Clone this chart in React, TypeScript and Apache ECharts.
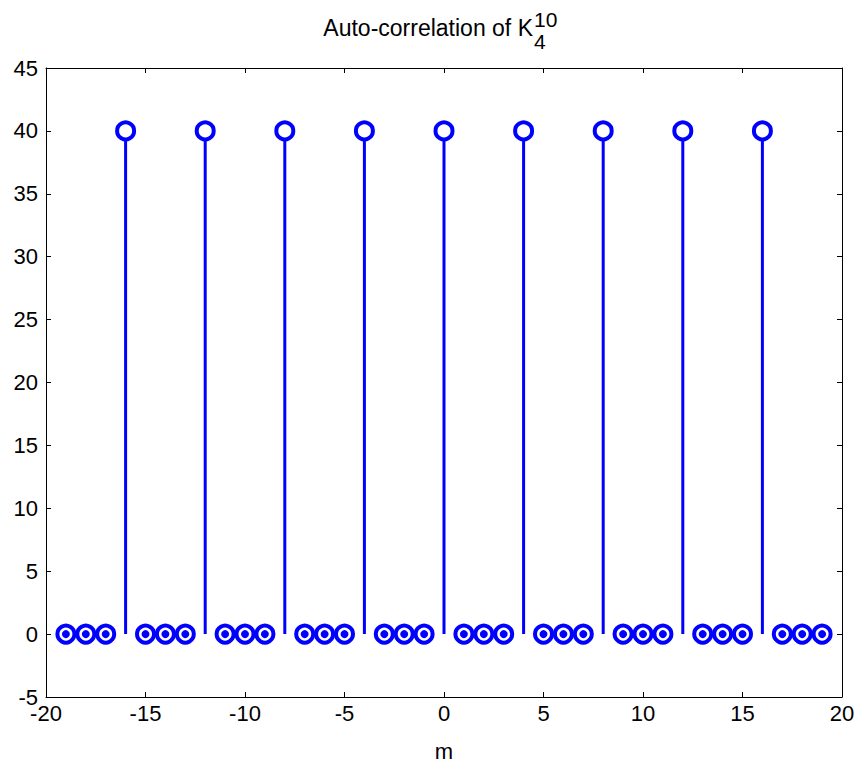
import React, { useEffect, useRef } from "react";
import * as echarts from "echarts";

const m = [-19, -18, -17, -16, -15, -14, -13, -12, -11, -10, -9, -8, -7, -6, -5, -4, -3, -2, -1, 0, 1, 2, 3, 4, 5, 6, 7, 8, 9, 10, 11, 12, 13, 14, 15, 16, 17, 18, 19];
const r = [0, 0, 0, 40, 0, 0, 0, 40, 0, 0, 0, 40, 0, 0, 0, 40, 0, 0, 0, 40, 0, 0, 0, 40, 0, 0, 0, 40, 0, 0, 0, 40, 0, 0, 0, 40, 0, 0, 0];
const titleMain = "Auto-correlation of K";
const titleSub = "4";
const titleSup = "10";
const xName = "m";

const FONT = "'Liberation Sans', Arial, sans-serif";
const BLUE = "#0000ff";

export default function App() {
  const ref = useRef<HTMLDivElement>(null);
  useEffect(() => {
    if (!ref.current) return;
    const chart = echarts.init(ref.current, null, { renderer: "svg" });
    const pts = m.map((x, i) => [x, r[i]]);
    const zeroPts = pts.filter((p) => p[1] === 0);
    const axisCommon = {
      type: "value" as const,
      splitLine: { show: false },
      axisLine: { show: true, onZero: false, lineStyle: { color: "#000", width: 1 } },
      axisTick: { show: true, inside: true, length: 5, lineStyle: { color: "#000" } },
    };
    chart.setOption({
      animation: false,
      backgroundColor: "#fff",
      grid: { left: 46, right: 16, top: 68, bottom: 60 },
      graphic: [
        {
          type: "text",
          x: 533,
          y: 28,
          style: { text: titleMain, font: `23px ${FONT}`, fill: "#000", textAlign: "right", textVerticalAlign: "middle" },
        },
        {
          type: "text",
          x: 534,
          y: 19,
          style: { text: titleSup, font: `21px ${FONT}`, fill: "#000", textAlign: "left", textVerticalAlign: "middle" },
        },
        {
          type: "text",
          x: 534,
          y: 41,
          style: { text: titleSub, font: `21px ${FONT}`, fill: "#000", textAlign: "left", textVerticalAlign: "middle" },
        },
      ],
      xAxis: [
        {
          ...axisCommon,
          position: "bottom",
          min: -20,
          max: 20,
          interval: 5,
          name: xName,
          nameLocation: "middle",
          nameGap: 43,
          nameTextStyle: { fontSize: 22, fontFamily: FONT, color: "#000" },
          axisLabel: { fontSize: 22, fontFamily: FONT, color: "#000", margin: 5 },
        },
        {
          ...axisCommon,
          position: "top",
          min: -20,
          max: 20,
          interval: 5,
          axisLabel: { show: false },
        },
      ],
      yAxis: [
        {
          ...axisCommon,
          position: "left",
          min: -5,
          max: 45,
          interval: 5,
          axisLabel: { fontSize: 22, fontFamily: FONT, color: "#000", margin: 8 },
        },
        {
          ...axisCommon,
          position: "right",
          min: -5,
          max: 45,
          interval: 5,
          axisLabel: { show: false },
        },
      ],
      series: [
        {
          type: "custom",
          xAxisIndex: 0,
          yAxisIndex: 0,
          data: pts,
          renderItem: (params: any, api: any) => {
            const x = api.value(0);
            const y = api.value(1);
            const p0 = api.coord([x, 0]);
            const p1 = api.coord([x, y]);
            return {
              type: "line",
              shape: { x1: p0[0], y1: p0[1], x2: p1[0], y2: p1[1] },
              style: { stroke: BLUE, lineWidth: 3 },
            };
          },
        },
        {
          type: "scatter",
          xAxisIndex: 0,
          yAxisIndex: 0,
          data: pts,
          symbol: "circle",
          symbolSize: 17,
          itemStyle: { color: "#fff", borderColor: BLUE, borderWidth: 4, opacity: 1 },
          z: 3,
        },
        {
          type: "scatter",
          xAxisIndex: 0,
          yAxisIndex: 0,
          data: zeroPts,
          symbol: "circle",
          symbolSize: 8,
          itemStyle: { color: BLUE, opacity: 1 },
          z: 4,
        },
      ],
    });
    return () => chart.dispose();
  }, []);
  return <div ref={ref} style={{ position: "fixed", left: 0, top: 0, width: 858, height: 767 }} />;
}
